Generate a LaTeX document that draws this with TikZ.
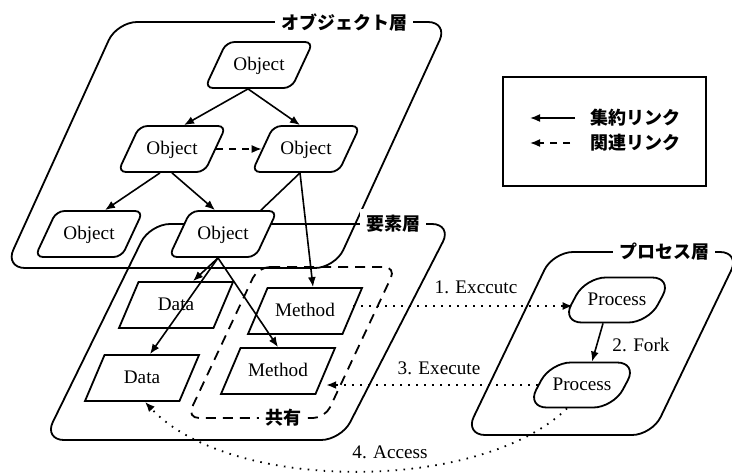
\documentclass[tikz,border=0pt]{standalone}
\usepackage{fontspec}
\setmainfont{Liberation Serif}
\newfontfamily\cjk{Noto Sans CJK JP}
\usetikzlibrary{arrows.meta, shapes.geometric, positioning}

\tikzset{
	slanted/.style={trapezium, trapezium stretches body, draw, line width=0.9pt, fill=white,
		text height=7pt, text depth=2pt, inner xsep=1pt},
	objnode/.style={slanted, trapezium left angle=65, trapezium right angle=115,
		rounded corners=4pt, minimum width=54pt, inner ysep=7pt},
	elemnode/.style={slanted, trapezium left angle=67, trapezium right angle=113,
		minimum width=57pt, inner ysep=7pt},
	procnode/.style={slanted, trapezium left angle=62, trapezium right angle=118,
		rounded corners=10pt, minimum width=50pt, inner ysep=6.75pt},
	aggr/.style={-{Latex[length=5pt,width=4pt]}, line width=0.8pt},
	rel/.style={aggr, dash pattern=on 3.5pt off 3pt},
	exec/.style={-{Latex[length=5pt,width=4pt]}, line width=0.9pt, dash pattern=on 0.8pt off 3.2pt},
	layerbox/.style={line width=0.9pt, rounded corners=10pt},
	sharebox/.style={line width=0.9pt, rounded corners=6pt, dash pattern=on 5pt off 3.5pt},
	layertitle/.style={fill=white, inner sep=3pt, font=\cjk\bfseries\fontsize{9}{10}\selectfont},
}

% rounded parallelogram with its title on the top edge
\newcommand{\drawLayer}[7]{
	\draw[layerbox] #2 -- #3 -- #4 -- #5 -- cycle;
	\node[layertitle] (#1) at #6 {#7};
}

\begin{document}
\begin{tikzpicture}[x=0.5pt, y=-0.5pt, font=\fontsize{9.6}{11}\selectfont]
	\useasboundingbox (0,0) rectangle (732,472);
	% Layers
	\drawLayer{objlayer}{(117,22)}{(448,22)}{(335,268)}{(5,268)}{(344,22)}{オブジェクト層}
	\drawLayer{elemlayer}{(150,224)}{(452,224)}{(341,440)}{(44,440)}{(393,224)}{要素層}
	\drawLayer{proclayer}{(553,252)}{(740,252)}{(652,435)}{(465,435)}{(664,252)}{プロセス層}
	\draw[sharebox] (258,267) -- (396,267) -- (325,418) -- (187,418) -- cycle;
	\node[layertitle] (share) at (283,418) {共有};

	% Legend
	\draw[line width=0.6pt] (503,77) rectangle (706,186);
	\coordinate (aggA) at (575,118);
	\coordinate (aggB) at (530,118);
	\coordinate (relA) at (570,143);
	\coordinate (relB) at (530,143);
	\draw[aggr] (aggA) -- (aggB);
	\draw[rel] (relA) -- (relB);
	\node[font=\cjk\bfseries\fontsize{9}{10}\selectfont] (aggtext) at (635,118) {集約リンク};
	\node[font=\cjk\bfseries\fontsize{9}{10}\selectfont] (reltext) at (635,143) {関連リンク};

	% Objects
	\node[objnode] (obj1) at (259,65) {Object};
	\node[objnode] (obj2) at (172,149) {Object};
	\node[objnode] (obj3) at (306,149) {Object};
	\node[objnode] (obj4) at (89,234) {Object};
	\node[objnode] (obj5) at (223,234) {Object};

	% Elements
	\node[elemnode] (data1) at (176,305) {Data};
	\node[elemnode] (meth1) at (305,311) {Method};
	\node[elemnode] (data2) at (142,378) {Data};
	\node[elemnode] (meth2) at (278,371) {Method};

	% Processes
	\node[procnode] (proc1) at (617,300) {Process};
	\node[procnode] (proc2) at (582,385) {Process};

	% Links between objects
	\draw[aggr] ([xshift=-5.5pt]obj1.south) -- ([xshift=6pt]obj2.north);
	\draw[aggr] ([xshift=-5.5pt]obj1.south) -- ([xshift=-3pt]obj3.north);
	\draw[rel] (obj2.east) -- (obj3.west);
	\draw[aggr] ([xshift=-6pt]obj2.south) -- ([xshift=8pt]obj4.north);
	\draw[aggr] (obj2.south) -- ([xshift=-4pt]obj5.north);
	\draw[line width=0.8pt] ([xshift=-3pt]obj3.south) -- ([xshift=19pt]obj5.north);
	\draw[aggr] ([xshift=-3pt]obj3.south) -- ([xshift=4pt]meth1.north);
	\draw[aggr] ([xshift=-2.5pt]obj5.south) -- ([xshift=8.5pt]data1.north);
	\draw[aggr] ([xshift=-2.5pt]obj5.south) -- ([xshift=4pt]data2.north);
	\draw[aggr] ([xshift=-2.5pt]obj5.south) -- (meth2.north);

	% Execution
	\draw[exec] ([yshift=2.5pt]meth1.east) -- ([yshift=2.5pt]meth1.east -| proc1.west);
	\node (exec1) at (476,287) {1. Exccutc};
	\draw[aggr] ([xshift=-7pt]proc1.south) -- ([xshift=5pt]proc2.north);
	\node (fork) at (641,345) {2. Fork};
	\draw[exec] (proc2.west) -- (proc2.west -| meth2.east);
	\node (exec3) at (439,368) {3. Execute};
	\draw[exec] ([xshift=-7.5pt]proc2.south) .. controls (480,493) and (230,493) .. ([xshift=1.5pt]data2.south);
	\node (access) at (390,452) {4. Access};
\end{tikzpicture}
\end{document}
